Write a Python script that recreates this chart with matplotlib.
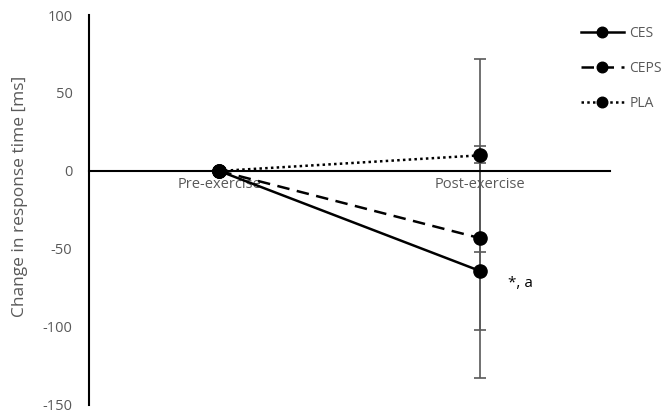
import matplotlib.pyplot as plt

categories = ["Pre-exercise", "Post-exercise"]
ces = [0, -64]
ceps = [0, -43]
pla = [0, 10]
ces_err = [0, 69]
ceps_err = [0, 59]
pla_err = [0, 62]
y_ticks = [-150, -100, -50, 0, 50, 100]

plt.rcParams['font.family'] = ['Open Sans', 'DejaVu Sans']
plt.rcParams['axes.unicode_minus'] = False
gray = '#595959'

fig = plt.figure(figsize=(6.7, 4.17), dpi=100)
ax = fig.add_axes([0.133, 0.029, 0.777, 0.935])

x = list(range(len(categories)))

# error bars first so markers sit on top
for vals, errs in [(ces, ces_err), (ceps, ceps_err), (pla, pla_err)]:
    ax.errorbar(x[1:], vals[1:], yerr=errs[1:], fmt='none', ecolor=gray,
                elinewidth=1.2, capsize=4, capthick=1.2, zorder=2)

ax.plot(x, ces, color='black', lw=1.8, ls='-', marker='o', ms=9.5, label='CES', zorder=3)
ax.plot(x, ceps, color='black', lw=1.8, ls=(0, (5, 3)), marker='o', ms=9.5, label='CEPS', zorder=3)
ax.plot(x, pla, color='black', lw=1.8, ls=(0, (1, 1.3)), marker='o', ms=9.5, label='PLA', zorder=3)

ax.text(1.11, -72, '*, a', fontsize=11, color='black', va='center', ha='left')

ax.set_xlim(-0.5, 1.5)
ax.set_ylim(-150, 100)
ax.set_yticks(y_ticks)
ax.set_xticks(x)
ax.set_xticklabels(categories)

ax.spines['top'].set_visible(False)
ax.spines['right'].set_visible(False)
ax.spines['bottom'].set_position(('data', 0))
ax.spines['bottom'].set_linewidth(1.5)
ax.spines['left'].set_linewidth(1.5)
ax.tick_params(axis='both', length=0, colors=gray, labelsize=10.5)
ax.tick_params(axis='y', pad=12)
ax.tick_params(axis='x', pad=4)

ax.set_ylabel('Change in response time [ms]', color=gray, fontsize=12.5)
ax.yaxis.set_label_coords(-0.118, 0.536)

leg = ax.legend(loc='upper left', bbox_to_anchor=(0.92, 1.005), frameon=False,
                fontsize=10, handlelength=3.1, labelspacing=1.45, handletextpad=0.4,
                labelcolor=gray, markerscale=0.8)

fig.savefig('out.png', dpi=100)
